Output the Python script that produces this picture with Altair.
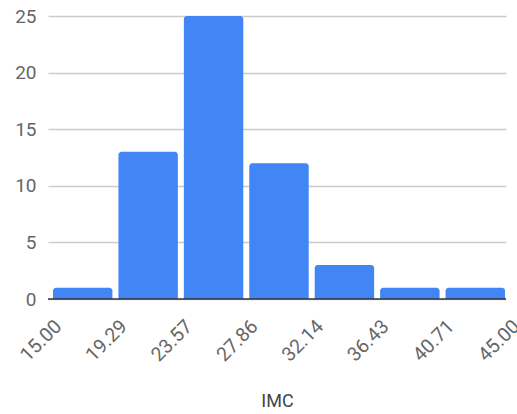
import altair as alt
import pandas as pd

edges = [15.0, 19.2857, 23.5714, 27.8571, 32.1429, 36.4286, 40.7143, 45.0]
counts = [1, 13, 25, 12, 3, 1, 1]

df = pd.DataFrame({
    "start": edges[:-1],
    "end": edges[1:],
    "count": counts,
})

bars = alt.Chart(df).mark_bar(
    color="#4285F4",
    xOffset=5,
    x2Offset=-1,
    cornerRadiusTopLeft=3,
    cornerRadiusTopRight=3,
).encode(
    x=alt.X(
        "start:Q",
        scale=alt.Scale(domain=[15, 45], nice=False, zero=False),
        axis=alt.Axis(
            values=edges,
            format=".2f",
            labelAngle=-45,
            labelAlign="right",
            labelBaseline="middle",
            labelOffset=10,
            labelPadding=24,
            labelFont="Roboto",
            labelFontSize=19.5,
            labelColor="#666666",
            ticks=False,
            grid=False,
            domain=False,
            title="IMC",
            titleFont="Roboto",
            titleFontSize=18,
            titleFontWeight="normal",
            titleColor="#444444",
            titleX=229,
            titleY=107,
            titleBaseline="alphabetic",
            labelOverlap=False,
            labelFlush=False,
        ),
    ),
    x2="end:Q",
    y=alt.Y(
        "count:Q",
        scale=alt.Scale(domain=[0, 25], nice=False),
        axis=alt.Axis(
            values=[0, 5, 10, 15, 20, 25],
            labelFont="Roboto",
            labelFontSize=19,
            labelColor="#666666",
            labelPadding=12,
            ticks=False,
            domain=False,
            gridColor="#cccccc",
            gridWidth=1.3,
            title=None,
        ),
    ),
    y2=alt.datum(0),
)

baseline = alt.Chart(pd.DataFrame({"v": [0]})).mark_rule(color="#333333", strokeWidth=1.5).encode(
    y=alt.Y("v:Q"),
    x=alt.value(0),
    x2=alt.value(458),
)

chart = alt.layer(bars, baseline).properties(
    width=458,
    height=283,
    autosize=alt.AutoSizeParams(type="none"),
    padding={"left": 48, "top": 16, "right": 11, "bottom": 115},
).configure_view(stroke=None)

chart.save("out.html", embed_options={"renderer": "svg", "actions": False})
